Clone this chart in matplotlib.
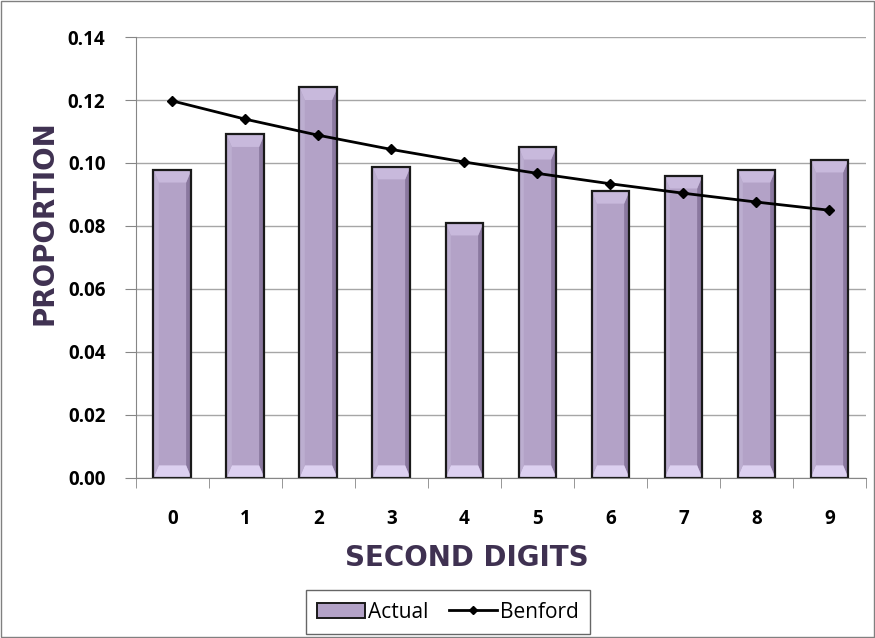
import matplotlib.pyplot as plt
import numpy as np
from matplotlib.patches import Rectangle, Polygon
from matplotlib.lines import Line2D

digits = ['0', '1', '2', '3', '4', '5', '6', '7', '8', '9']
actual = [0.0978, 0.1091, 0.1240, 0.0988, 0.0810, 0.1051, 0.0911, 0.0959, 0.0978, 0.1010]
benford = [0.1197, 0.1139, 0.1088, 0.1043, 0.1003, 0.0967, 0.0934, 0.0904, 0.0876, 0.0850]

label_color = '#3f3151'
grid_color = '#a6a6a6'
bar_color = '#b3a2c7'

fig = plt.figure(figsize=(8.75, 6.38), dpi=100)
ax = fig.add_axes([0.1554, 0.2508, 0.8343, 0.6912])

x = np.arange(len(digits))
w = 0.52
ax.bar(x, actual, width=w, color=bar_color, linewidth=0, zorder=2)
# bevel shading on each bar
bev = 0.004
for xi, h in zip(x, actual):
    x0, x1 = xi - w / 2, xi + w / 2
    dx = w * 0.14
    ax.add_patch(Polygon([(x1 - dx, bev), (x1, 0), (x1, h), (x1 - dx, h - bev)],
                         closed=True, color='#8a789f', linewidth=0, zorder=2.1))
    ax.add_patch(Polygon([(x0, 0), (x1, 0), (x1 - dx, bev), (x0 + dx, bev)],
                         closed=True, color='#dcd0f0', linewidth=0, zorder=2.1))
    ax.add_patch(Polygon([(x0, h), (x1, h), (x1 - dx, h - bev), (x0 + dx, h - bev)],
                         closed=True, color='#c8b9dc', linewidth=0, zorder=2.1))
    ax.add_patch(Polygon([(x0, 0), (x0 + dx, bev), (x0 + dx, h - bev), (x0, h)],
                         closed=True, color='#bcaed0', linewidth=0, zorder=2.1))
    ax.add_patch(Rectangle((x0, 0), w, h, fill=False, edgecolor='#1a1a1a',
                           linewidth=1.6, zorder=2.2))

ax.plot(x, benford, color='black', linewidth=2, marker='D', markersize=5.5,
        zorder=3)

ax.set_xlim(-0.5, 9.5)
ax.set_ylim(0, 0.14)
yt = np.arange(0, 0.141, 0.02)
ax.set_yticks(yt)
ax.set_yticklabels([f'{v:.2f}' for v in yt])
ax.set_xticks(x)
ax.set_xticklabels(digits)
ax.set_xticks(np.arange(-0.5, 10, 1), minor=True)
ax.tick_params(axis='x', which='major', length=0, pad=22)
ax.tick_params(axis='x', which='minor', length=7, color='#868686')
ax.tick_params(axis='y', length=8, color='#868686', pad=14)
for lab in ax.get_xticklabels() + ax.get_yticklabels():
    lab.set_fontweight('bold')
    lab.set_fontsize(13.5)
    lab.set_fontfamily('Open Sans')

ax.yaxis.grid(True, color=grid_color, linewidth=1, zorder=0)
ax.set_axisbelow(True)
for s in ['top', 'right']:
    ax.spines[s].set_visible(False)
ax.spines['left'].set_color('#868686')
ax.spines['bottom'].set_color('#868686')

ax.set_ylabel('PROPORTION', fontsize=20, fontweight='bold', color=label_color,
              family='DejaVu Sans')
ax.set_xlabel('SECOND DIGITS', fontsize=20, fontweight='bold', color=label_color,
              family='DejaVu Sans')
ax.yaxis.set_label_coords(-0.106, 0.578)
ax.xaxis.set_label_coords(0.453, -0.150)

handles = [Rectangle((0, 0), 1, 1, facecolor=bar_color, edgecolor='#1a1a1a', linewidth=1.4),
           Line2D([], [], color='black', linewidth=2, marker='D', markersize=4)]
leg = fig.legend(handles, ['Actual', 'Benford'], loc='lower center',
                 bbox_to_anchor=(0.512, 0.006), ncol=2,
                 frameon=True, fancybox=False, edgecolor='#404040',
                 prop={'family': 'Open Sans', 'size': 15},
                 handlelength=2.3, handleheight=0.8, columnspacing=1.0,
                 handletextpad=0.15, borderpad=0.55, borderaxespad=0)
leg.get_frame().set_linewidth(1)

fig.patches.append(Rectangle((0.001, 0.001), 0.998, 0.997, transform=fig.transFigure,
                             fill=False, edgecolor='#808080', linewidth=1))

fig.savefig('out.png', dpi=100)
